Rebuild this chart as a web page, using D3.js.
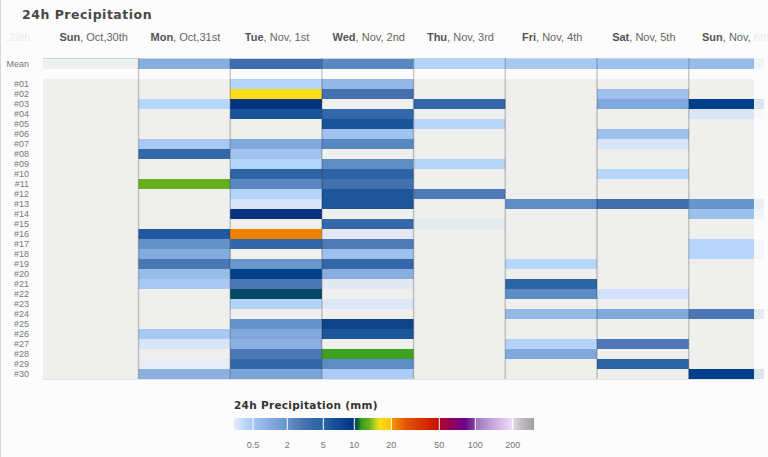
<!DOCTYPE html>
<html><head><meta charset="utf-8">
<script src="https://cdn.jsdelivr.net/npm/d3@7/dist/d3.min.js"></script>
<style>body{margin:0;background:#fbfcfb;} svg{display:block}</style>
</head><body><svg id="c" width="768" height="457"></svg>
<script>
// ---- data ----
const weekdays = ["Sat","Sun","Mon","Tue","Wed","Thu","Fri","Sat","Sun"];
const dates = [", Oct,29th",", Oct,30th",", Oct,31st",", Nov, 1st",", Nov, 2nd",", Nov, 3rd",", Nov, 4th",", Nov, 5th",", Nov, 6th"];
const memberLabels = d3.range(1,31).map(d => "#" + String(d).padStart(2,"0"));
const meanValues = [0, 1.2, 3.8, 2.5, 0.35, 0.5, 0.65, 0.8];
// member values (mm) per day, members #01..#30
const sunOct30 = [0,0,0,0,0,0,0,0,0,0,0,0,0,0,0,0,0,0,0,0,0,0,0,0,0,0,0,0,0,0];
const monOct31 = [0,0,0.3,0,0,0,0.5,4.2,0,0,14,0,0,0,0,5.8,2.1,1.3,3.2,0.8,0.5,0,0,0,0,0.5,0.1,0,0.01,1.1];
const tueNov1  = [0.35,17,9.8,6.5,0,0,1.4,0.65,0.35,5.0,2.5,0.35,0.1,9.8,0,23,4.4,0,1.9,9,3.2,10.3,0.35,0,2.0,1.4,1.1,3.2,4.4,1.5];
const wedNov2  = [0.9,3.6,0,4.2,6.5,0.65,2.5,0,2.3,5.0,3.6,6.2,6.2,0,4.2,0.03,3.0,0.7,4.4,1.2,0.03,0,0.08,0,8,6.3,0,12,2.3,0.45];
const thuNov3  = [0,0,4.4,0,0.3,0,0,0,0.35,0,0,3.0,0,0,0.02,0,0,0,0,0,0,0,0,0,0,0,0,0,0,0];
const friNov4  = [0,0,0,0,0,0,0,0,0,0,0,0,2.3,0,0,0,0,0,0.3,0,5.0,2.3,0,0.9,0,0,0.35,1.4,0,0];
const satNov5  = [0,0.7,1.4,0,0,0.7,0.1,0,0,0.3,0,0,3.8,0,0,0,0,0,0,0,0,0.15,0,1.4,0,0,3.1,0,5.0,0];
const sunNov6  = [0,0,9,0.1,0,0,0,0,0,0,0,0,1.9,0.7,0,0,0.3,0.3,0,0,0,0,0,3.2,0,0,0,0,0,9];
const dayValues = [sunOct30, monOct31, tueNov1, wedNov2, thuNov3, friNov4, satNov5, sunNov6];
const legendTicks = [0.5, 2, 5, 10, 20, 50, 100, 200];
const colorStops = [0,0.02,0.1,0.3,0.5,0.8,1.1,1.4,1.9,2.3,3.0,3.6,4.2,5.0,5.8,6.5,8,9,9.8,10.3,11,12,14,16,17,19.5,20.5,23,30,40,49,51,70,85,99,101,140,180,199,201,300,400];
const colorRange = ["#eaf0f6","#e4eaf2","#d8e4f8","#b8d6fb","#a8c8f4","#98bce8","#8cb0e0","#80a8dc","#6896cc","#5e8cc4","#4e7ab8","#4470ae","#3468aa","#2c64a6","#2258a0","#1a5498","#10448a","#003f8a","#063480","#044866","#0a6a30","#3ca020","#64b020","#c8d820","#ffdc1a","#ffc800","#f59a00","#f08000","#e45000","#d83000","#c81000","#b0002a","#8a0060","#6a0088","#8040a0","#a070c0","#c0a0d8","#e0c8f0","#f0e0f8","#e0d8e4","#b8b8b8","#a0a0a0"];

// ---- scales ----
const svg = d3.select("#c");
const x = d3.scaleLinear().domain([0, 8]).range([46.8, 46.8 + 91.7 * 8]);
const rowY = d3.scaleLinear().domain([0, 1]).range([79, 89]); // member row k -> y
const color = d3.scaleLinear().domain(colorStops).range(colorRange).clamp(true);
const gridLeft = 43, gridRight = 754, extRight = 764;

svg.append("rect").attr("width",768).attr("height",457).attr("fill","#fbfcfb");
svg.append("line").attr("x1",0.5).attr("x2",0.5).attr("y1",0).attr("y2",457).attr("stroke","#d6d8d6");

// title
svg.append("text").attr("x",22).attr("y",19).text("24h Precipitation")
  .attr("font-family","DejaVu Sans").attr("font-weight","bold").attr("font-size",12.5)
  .attr("letter-spacing",0.5).attr("fill","#484848");

// clips
const defs = svg.append("defs");
defs.append("clipPath").attr("id","clip").append("rect")
  .attr("x",gridLeft).attr("y",0).attr("width",extRight-gridLeft).attr("height",457);
defs.append("clipPath").attr("id","hclip").append("rect")
  .attr("x",6).attr("y",0).attr("width",762).attr("height",457);

// grid background
svg.append("rect").attr("x",gridLeft).attr("y",58.5).attr("width",gridRight-gridLeft).attr("height",10.5).attr("fill","#eff0ee");
svg.append("rect").attr("x",gridLeft).attr("y",rowY(0)).attr("width",gridRight-gridLeft).attr("height",rowY(30)-rowY(0)).attr("fill","#eff0ee");

const g = svg.append("g").attr("clip-path","url(#clip)");
// mean row
g.selectAll("rect.mean").data(meanValues.map((v,i)=>({v,i})).filter(d=>d.v>0)).join("rect")
  .attr("class","mean").attr("x",d=>x(d.i)).attr("width",d=>x(d.i+1)-x(d.i))
  .attr("y",58.5).attr("height",10.5).attr("fill",d=>color(d.v));
// members
const cells = [];
dayValues.forEach((arr,i)=>arr.forEach((v,k)=>{ if(v>0) cells.push({i,k,v}); }));
g.selectAll("rect.cell").data(cells).join("rect")
  .attr("class","cell").attr("x",d=>x(d.i)).attr("width",d=>x(d.i+1)-x(d.i))
  .attr("y",d=>rowY(d.k)).attr("height",d=>rowY(d.k+1)-rowY(d.k)).attr("fill",d=>color(d.v));

// top line & bottom line
svg.append("line").attr("x1",gridLeft).attr("x2",gridRight).attr("y1",58.5).attr("y2",58.5).attr("stroke","#c8d6ea").attr("stroke-width",1);
svg.append("line").attr("x1",gridLeft).attr("x2",gridRight).attr("y1",rowY(30)+0.5).attr("y2",rowY(30)+0.5).attr("stroke","#e2e4e2").attr("stroke-width",1);

// day separators
svg.selectAll("line.sep").data(d3.range(1,8)).join("line").attr("class","sep")
  .attr("x1",d=>x(d)).attr("x2",d=>x(d)).attr("y1",58).attr("y2",rowY(30))
  .attr("stroke","rgba(0,0,0,0.2)").attr("stroke-width",1.5);

// header labels
const hdr = svg.append("g").attr("clip-path","url(#hclip)")
  .selectAll("text.day").data(d3.range(-1,8)).join("text").attr("class","day")
  .attr("x",i=> i<0 ? x(i+0.5)-3 : (Math.max(x(i),gridLeft)+x(i+1))/2 + 1)
  .attr("y",41).attr("text-anchor","middle")
  .attr("font-family","Liberation Sans, Arial, sans-serif").attr("font-size",11);
hdr.append("tspan").attr("font-weight","bold").attr("fill","#555").text(i=>weekdays[i+1]);
hdr.append("tspan").attr("fill","#666").text(i=>dates[i+1]);

// row labels
svg.append("text").attr("x",29).attr("y",67).attr("text-anchor","end").text("Mean")
  .attr("font-family","Liberation Sans, Arial, sans-serif").attr("font-size",9).attr("fill","#777");
svg.selectAll("text.mem").data(memberLabels).join("text").attr("class","mem")
  .attr("x",29).attr("y",(d,k)=>rowY(k)+8).attr("text-anchor","end").text(d=>d)
  .attr("font-family","Liberation Sans, Arial, sans-serif").attr("font-size",9).attr("fill","#777");

// edge fades
svg.append("rect").attr("x",gridRight).attr("y",25).attr("width",768-gridRight).attr("height",360).attr("fill","#fbfcfb").attr("opacity",0.88);
svg.append("rect").attr("x",1).attr("y",25).attr("width",36).attr("height",22).attr("fill","#fbfcfb").attr("opacity",0.88);

// legend
svg.append("text").attr("x",234).attr("y",409).text("24h Precipitation (mm)")
  .attr("font-family","DejaVu Sans").attr("font-weight","bold").attr("font-size",10.5)
  .attr("letter-spacing",0.3).attr("fill","#333");
const lx = d3.scaleLinear().domain([0,0.5,2,5,10,20,50,100,200,400])
  .range([234,253,287.3,323.3,354.3,391.3,439.3,475.3,512.7,534]);
const px = d3.range(234,534,1);
svg.selectAll("rect.leg").data(px).join("rect").attr("class","leg")
  .attr("x",d=>d).attr("y",418).attr("width",1.05).attr("height",12)
  .attr("fill",d=>color(lx.invert(d+0.5)));
svg.selectAll("line.lt").data(legendTicks).join("line").attr("class","lt")
  .attr("x1",d=>lx(d)).attr("x2",d=>lx(d)).attr("y1",418).attr("y2",430)
  .attr("stroke","#fff").attr("stroke-width",1);
svg.selectAll("text.lt").data(legendTicks).join("text").attr("class","lt")
  .attr("x",d=>lx(d)).attr("y",448).attr("text-anchor","middle").text(d=>d)
  .attr("font-family","Liberation Sans, Arial, sans-serif").attr("font-size",9).attr("fill","#777");
</script></body></html>
